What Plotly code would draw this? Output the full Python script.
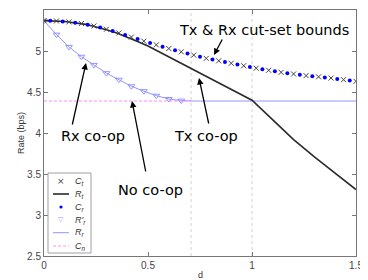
import plotly.graph_objects as go

# ---- data ----
d_ct = [0, 0.06, 0.12, 0.18, 0.24, 0.30, 0.36, 0.42, 0.48, 0.54, 0.60, 0.66, 0.72,
        0.78, 0.84, 0.90, 0.96, 1.02, 1.08, 1.14, 1.20, 1.26, 1.32, 1.38, 1.44, 1.50]
C_t = [5.37, 5.366, 5.355, 5.335, 5.305, 5.265, 5.22, 5.17, 5.12, 5.075, 5.03, 4.99, 4.95,
       4.91, 4.88, 4.85, 4.82, 4.79, 4.765, 4.74, 4.72, 4.70, 4.685, 4.67, 4.65, 4.63]

d_cr = [0.03, 0.09, 0.15, 0.21, 0.27, 0.33, 0.39, 0.45, 0.51, 0.57, 0.63, 0.69, 0.75,
        0.81, 0.87, 0.93, 0.99, 1.05, 1.11, 1.17, 1.23, 1.29, 1.35, 1.41, 1.47]
C_r = [5.369, 5.361, 5.346, 5.321, 5.286, 5.243, 5.195, 5.145, 5.097, 5.052, 5.01, 4.97, 4.93,
       4.895, 4.865, 4.835, 4.805, 4.777, 4.752, 4.73, 4.71, 4.692, 4.677, 4.66, 4.64]

d_rt = [0, 0.1, 0.2, 0.25, 0.3, 0.35, 0.4, 0.45, 0.5, 0.6, 0.7, 0.8, 0.9, 1.0, 1.1, 1.2, 1.3, 1.4, 1.5]
R_t = [5.37, 5.36, 5.325, 5.295, 5.26, 5.22, 5.17, 5.115, 5.06, 4.93, 4.80, 4.67, 4.535, 4.40,
       4.16, 3.92, 3.71, 3.51, 3.31]

d_rpr = [0, 0.06, 0.12, 0.18, 0.24, 0.30, 0.36, 0.42, 0.48, 0.54, 0.60, 0.66]
Rp_r = [5.37, 5.20, 5.05, 4.93, 4.83, 4.73, 4.65, 4.57, 4.51, 4.455, 4.415, 4.395]

d_rr = d_rpr + [0.707, 1.5]
R_r = Rp_r + [4.39, 4.39]

d_cn = [0, 0.707]
C_n = [4.39, 4.39]

thresholds = [0.707, 1.0]

x_ticks = [0, 0.5, 1, 1.5]
x_tick_text = ["0", "0.5", "1", "1.5"]
y_ticks = [2.5, 3, 3.5, 4, 4.5, 5, 5.5]
y_tick_text = ["2.5", "3", "3.5", "4", "4.5", "5", "5.5"]

legend_labels = ["<i>C</i><sub><i>t</i></sub>", "<i>R</i><sub><i>t</i></sub>",
                 "<i>C</i><sub><i>r</i></sub>", "<i>R'</i><sub><i>r</i></sub>",
                 "<i>R</i><sub><i>r</i></sub>", "<i>C</i><sub><i>n</i></sub>"]

BLACK = "#2a2a2a"
BLUE = "#0000ff"
LBLUE = "#9494ff"
PINK = "#ff8cff"

fig = go.Figure()
fig.add_trace(go.Scatter(x=d_rr, y=R_r, mode="lines", line=dict(color=LBLUE, width=1)))
fig.add_trace(go.Scatter(x=d_cn, y=C_n, mode="lines", line=dict(color=PINK, width=1, dash="3px,2px")))
fig.add_trace(go.Scatter(x=d_rpr, y=Rp_r, mode="markers",
                         marker=dict(symbol="triangle-down-open", size=6, color=LBLUE, line=dict(width=1))))
fig.add_trace(go.Scatter(x=d_rt, y=R_t, mode="lines", line=dict(color=BLACK, width=1.6)))
fig.add_trace(go.Scatter(x=d_ct, y=C_t, mode="markers",
                         marker=dict(symbol="x-thin", size=5, color="#444", line=dict(width=1, color="#444"))))
fig.add_trace(go.Scatter(x=d_cr, y=C_r, mode="markers",
                         marker=dict(symbol="circle", size=4, color=BLUE, line=dict(width=0))))

shapes = []
for t in thresholds:
    shapes.append(dict(type="line", xref="x", yref="paper", x0=t, x1=t, y0=0, y1=1,
                       line=dict(color="#d2d2d2", width=1, dash="dot"), layer="below"))

# manual legend (box + samples); positions given in reference pixels
def px2d(px):
    return (px - 44) / 208.0
def py2d(py):
    return 5.5 - (py - 10) / 82.0

shapes.append(dict(type="rect", xref="x", yref="y", x0=px2d(48), x1=px2d(91), y0=py2d(253), y1=py2d(173),
                   line=dict(color="#a0a0a0", width=1), fillcolor="white", layer="above"))
row_py = [181, 194, 207, 220, 232.7, 246]
annotations = []
sym_x = px2d(61)
annotations.append(dict(x=sym_x, y=py2d(row_py[0]), xref="x", yref="y", text="×", showarrow=False,
                        font=dict(size=9, color="#444", family="DejaVu Sans")))
shapes.append(dict(type="line", xref="x", yref="y", x0=px2d(53), x1=px2d(69), y0=py2d(row_py[1]), y1=py2d(row_py[1]),
                   line=dict(color=BLACK, width=1.6)))
shapes.append(dict(type="circle", xref="x", yref="y", xsizemode="pixel", ysizemode="pixel",
                   xanchor=sym_x, yanchor=py2d(row_py[2]), x0=-1.6, x1=1.6, y0=-1.6, y1=1.6,
                   fillcolor=BLUE, line=dict(width=0)))
annotations.append(dict(x=sym_x, y=py2d(row_py[3]), xref="x", yref="y", text="▽", showarrow=False,
                        font=dict(size=7, color=LBLUE, family="DejaVu Sans")))
shapes.append(dict(type="line", xref="x", yref="y", x0=px2d(53), x1=px2d(69), y0=py2d(row_py[4]), y1=py2d(row_py[4]),
                   line=dict(color=LBLUE, width=1)))
shapes.append(dict(type="line", xref="x", yref="y", x0=px2d(53), x1=px2d(69), y0=py2d(row_py[5]), y1=py2d(row_py[5]),
                   line=dict(color=PINK, width=1, dash="3px,2px")))
for lab, py in zip(legend_labels, row_py):
    annotations.append(dict(x=px2d(73), y=py2d(py), xref="x", yref="y", text=lab, showarrow=False,
                            xanchor="left", font=dict(size=9, color="#333", family="Liberation Sans")))

TF = dict(family="DejaVu Sans", size=14.5, color="black")
texts = [("Tx & Rx cut-set bounds", 264, 30), ("Rx co-op", 92.5, 136),
         ("Tx co-op", 205.6, 136), ("No co-op", 150.5, 190)]
for t, px, py in texts:
    annotations.append(dict(x=px2d(px), y=py2d(py), xref="x", yref="y", text=t, showarrow=False, font=TF))
arrows = [((223, 38), (214, 55)), ((72, 126), (86, 63)), ((209, 125), (199, 78)), ((146, 173), (132, 101))]
for (tx, ty), (hx, hy) in arrows:
    annotations.append(dict(x=px2d(hx), y=py2d(hy), ax=px2d(tx), ay=py2d(ty), xref="x", yref="y",
                            axref="x", ayref="y", text="", showarrow=True, arrowhead=2, arrowsize=1,
                            arrowwidth=1.3, arrowcolor="black"))

annotations.append(dict(x=0.75, y=0, xref="x", yref="paper", yanchor="top", yshift=-12, text="d",
                        showarrow=False, font=dict(size=9, color="#333", family="Liberation Sans")))
annotations.append(dict(x=0, y=4.0, xref="paper", yref="y", xanchor="center", xshift=-23, text="Rate (bps)",
                        textangle=-90, showarrow=False, font=dict(size=9, color="#333", family="Liberation Sans")))

axis_common = dict(showgrid=False, zeroline=False, showline=True, linecolor="#777", linewidth=1,
                   mirror="ticks", ticks="inside", ticklen=4, tickcolor="#777",
                   tickfont=dict(size=10, color="#444", family="Liberation Sans"))
fig.update_layout(
    width=360, height=272, margin=dict(l=36, r=12, t=2, b=24),
    paper_bgcolor="white", plot_bgcolor="white", showlegend=False,
    xaxis=dict(range=[0, 1.5], tickvals=x_ticks, ticktext=x_tick_text, **axis_common),
    yaxis=dict(range=[2.5, 5.5], tickvals=y_ticks, ticktext=y_tick_text, **axis_common),
    shapes=shapes, annotations=annotations,
)
fig.write_html("out.html")
